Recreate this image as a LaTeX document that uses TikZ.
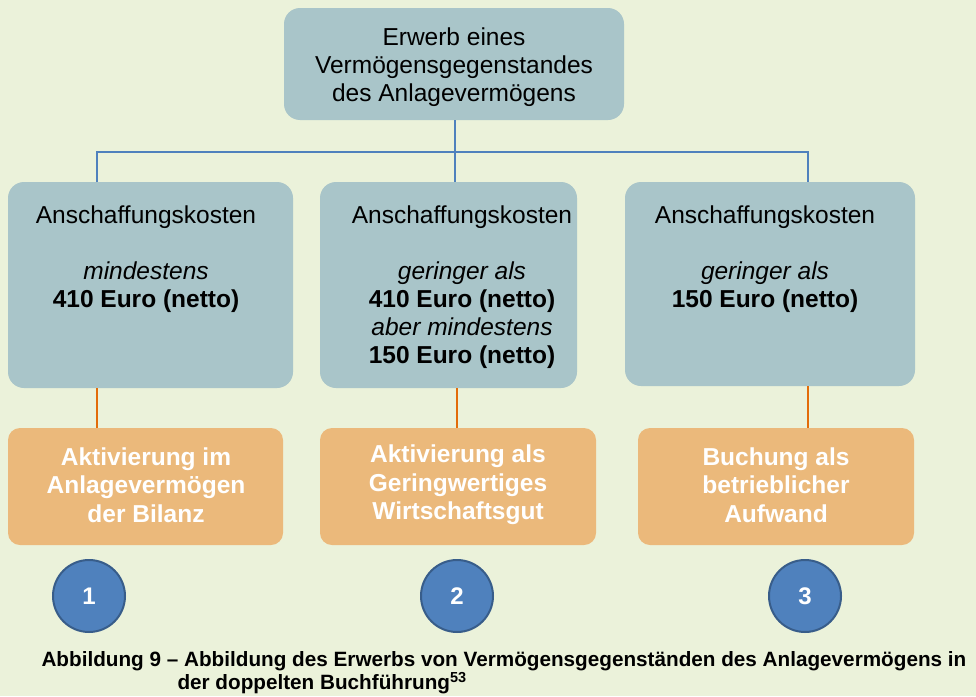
\documentclass[tikz,border=0pt]{standalone}
\usepackage{fontspec}
\setmainfont{Liberation Sans}
\definecolor{bg}{HTML}{EBF2DA}
\definecolor{boxb}{HTML}{A9C5C9}
\definecolor{boxo}{HTML}{EBB97B}
\definecolor{lblue}{HTML}{4F81BD}
\definecolor{lor}{HTML}{E36C09}
\definecolor{cdark}{HTML}{385D8A}
\begin{document}
\begin{tikzpicture}[x=1pt,y=-1pt,
  bbox/.style={fill=boxb,rounded corners=16pt,draw=none},
  obox/.style={fill=boxo,rounded corners=12pt,draw=none},
  btxt/.style={font=\fontsize{24.5}{28}\selectfont,align=center,text=black},
  otxt/.style={font=\fontsize{24.5}{28.5}\selectfont\bfseries,align=center,text=white},
  num/.style={circle,fill=lblue,draw=cdark,line width=2pt,minimum size=72pt,text=white,font=\fontsize{24}{28}\selectfont\bfseries},
  bl/.style={lblue,line width=2.5pt},
  ol/.style={lor,line width=2.5pt}]
\fill[bg] (0,0) rectangle (976,696);
\useasboundingbox (0,0) rectangle (976,696);
% top
\fill[bbox] (284,8) rectangle (624,120);
\node[btxt] (top) at (454,67) {Erwerb eines\\Vermögensgegenstandes\\des Anlagevermögens};
\coordinate (tb) at (455,120);
\coordinate (j) at (455,152);
% middle boxes
\fill[bbox] (8,182) rectangle (293,388);
\fill[bbox] (320,182) rectangle (577,388);
\fill[bbox] (625,182) rectangle (915,386);
\node[btxt,anchor=north] (m1) at (146,202) {Anschaffungskosten\\[28pt]\textit{mindestens}\\\textbf{410 Euro (netto)}};
\node[btxt,anchor=north] (m2) at (462,202) {Anschaffungskosten\\[28pt]\textit{geringer als}\\\textbf{410 Euro (netto)}\\\textit{aber mindestens}\\\textbf{150 Euro (netto)}};
\node[btxt,anchor=north] (m3) at (765,202) {Anschaffungskosten\\[28pt]\textit{geringer als}\\\textbf{150 Euro (netto)}};
\coordinate (a1) at (97,182); \coordinate (a2) at (455,182); \coordinate (a3) at (808,182);
\draw[bl] (tb) -- (j);
\draw[bl] (a1) -- (97,152) -- (808,152) -- (a3);
\draw[bl] (j) -- (a2);
% orange
\fill[obox] (8,428) rectangle (283,545);
\fill[obox] (320,428) rectangle (596,545);
\fill[obox] (638,428) rectangle (914,545);
\node[otxt] (o1) at (146,485) {Aktivierung im\\Anlagevermögen\\der Bilanz};
\node[otxt] (o2) at (458,485) {Aktivierung als\\Geringwertiges\\Wirtschaftsgut};
\node[otxt] (o3) at (776,485) {Buchung als\\betrieblicher\\Aufwand};
\coordinate (b1) at (97,388); \coordinate (c1) at (97,428);
\coordinate (b2) at (457,388); \coordinate (c2) at (457,428);
\coordinate (b3) at (808,386); \coordinate (c3) at (808,428);
\draw[ol] (b1) -- (c1); \draw[ol] (b2) -- (c2); \draw[ol] (b3) -- (c3);
% circles
\node[num] (n1) at (89,596) {1};
\node[num] (n2) at (457,596) {2};
\node[num] (n3) at (805,596) {3};
% caption
\node[anchor=west,font=\fontsize{20.7}{24}\selectfont\bfseries] (cap1) at (38,661) {Abbildung 9 – Abbildung des Erwerbs von Vermögensgegenständen des Anlagevermögens in};
\node[anchor=west,font=\fontsize{20.7}{24}\selectfont\bfseries] (cap2) at (174,683) {der doppelten Buchführung\textsuperscript{53}};
\end{tikzpicture}
\end{document}
